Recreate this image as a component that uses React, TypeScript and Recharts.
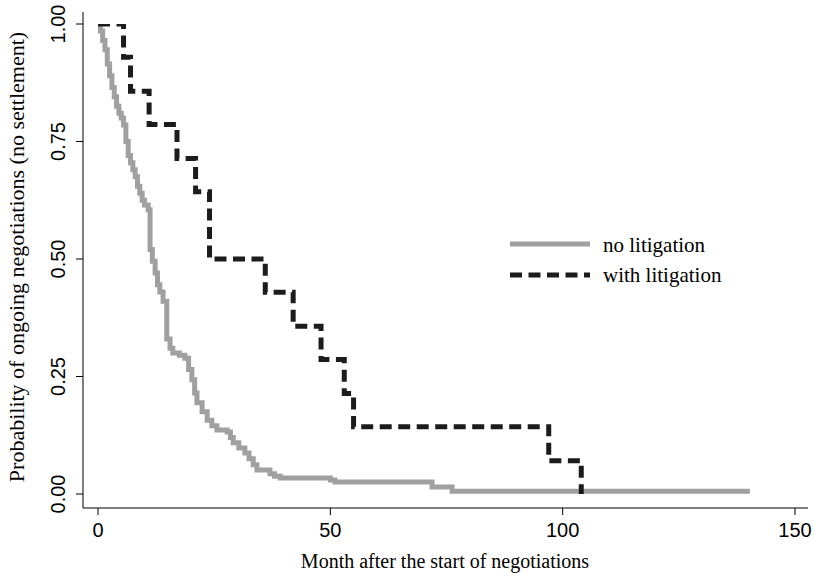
import React from 'react';
import { LineChart, Line, XAxis, YAxis } from 'recharts';

// no litigation group (Kaplan-Meier step curve)
const noLitMonths = [
  0, 0.5, 1, 1.5, 2, 2.5, 3, 3.5, 4, 4.5, 5, 5.5, 6, 6.5, 7, 7.5, 8, 8.5, 9, 9.5,
  10, 10.8, 11.2, 11.7, 12.3, 12.8, 13.3, 14, 14.8, 15.5, 16.1, 17.5, 18.7, 19.5,
  20.2, 20.8, 21.3, 22.4, 23.5, 24.5, 25.6, 27.8, 28.5, 29.1, 30.3, 31.6, 32.5,
  33.4, 34.2, 37, 38, 39.2, 50, 51, 71.9, 76.2, 140.3,
];
const noLitSurv = [
  1.0, 0.985, 0.965, 0.945, 0.915, 0.89, 0.865, 0.845, 0.825, 0.81, 0.8, 0.785,
  0.75, 0.72, 0.705, 0.69, 0.675, 0.655, 0.64, 0.625, 0.615, 0.605, 0.52, 0.495,
  0.47, 0.445, 0.43, 0.41, 0.33, 0.31, 0.3, 0.295, 0.289, 0.265, 0.243, 0.215,
  0.194, 0.175, 0.157, 0.145, 0.136, 0.132, 0.12, 0.109, 0.098, 0.087, 0.075,
  0.062, 0.051, 0.043, 0.038, 0.034, 0.03, 0.0255, 0.015, 0.006, 0.006,
];

// with litigation group
const litMonths = [0, 5.5, 7, 11, 17, 21, 24, 36, 42, 48, 53, 55, 97, 104];
const litSurv = [1, 0.929, 0.857, 0.786, 0.714, 0.643, 0.5, 0.429, 0.357, 0.286, 0.214, 0.143, 0.071, 0];

const xTicks = [0, 50, 100, 150];
const yTicks = [0, 0.25, 0.5, 0.75, 1];

const noLitData = noLitMonths.map((t, i) => ({ t, s: noLitSurv[i] }));
const litData = litMonths.map((t, i) => ({ t, s: litSurv[i] }));

const SANS = '"Liberation Sans", Arial, sans-serif';
const SERIF = '"Liberation Serif", "Times New Roman", serif';

const XTick = (props: any) => (
  <text x={props.x} y={537} textAnchor="middle" fontFamily={SANS} fontSize={20} fill="#000">
    {props.payload.value}
  </text>
);

const YTick = (props: any) => (
  <text
    x={65}
    y={props.y}
    transform={`rotate(-90, 65, ${props.y})`}
    textAnchor="middle"
    fontFamily={SANS}
    fontSize={20}
    fill="#000"
  >
    {props.payload.value.toFixed(2)}
  </text>
);

const LegendBox = () => (
  <svg width={260} height={70} style={{ position: 'absolute', left: 500, top: 225 }}>
    <line x1={10} x2={90} y1={19} y2={19} stroke="#a0a0a0" strokeWidth={5} />
    <text x={103} y={27} fontFamily={SERIF} fontSize={21} fill="#000">no litigation</text>
    <line x1={10} x2={90} y1={50} y2={50} stroke="#1c1c1c" strokeWidth={5} strokeDasharray="12 6.5" />
    <text x={103} y={57} fontFamily={SERIF} fontSize={21} fill="#000">with litigation</text>
  </svg>
);

const App: React.FC = () => {
  return (
    <div style={{ position: 'absolute', left: 0, top: 0, width: 815, height: 580, background: '#fff' }}>
      <LineChart width={815} height={580} margin={{ top: 12, right: 7, bottom: 0, left: 0 }}>
        <XAxis
          type="number"
          dataKey="t"
          domain={[0, 150]}
          ticks={xTicks}
          padding={{ left: 15, right: 13 }}
          height={72}
          tickSize={7}
          axisLine={{ stroke: '#000' }}
          tickLine={{ stroke: '#000' }}
          tick={<XTick />}
          allowDataOverflow
          label={{
            content: () => (
              <text x={445} y={568} textAnchor="middle" fontFamily={SERIF} fontSize={20} fill="#000">
                Month after the start of negotiations
              </text>
            ),
          }}
        />
        <YAxis
          type="number"
          dataKey="s"
          domain={[0, 1]}
          ticks={yTicks}
          padding={{ top: 12, bottom: 14 }}
          width={83}
          tickSize={7}
          axisLine={{ stroke: '#000' }}
          tickLine={{ stroke: '#000' }}
          tick={<YTick />}
          allowDataOverflow
          label={{
            content: () => (
              <text
                x={24}
                y={257}
                transform="rotate(-90, 24, 257)"
                textAnchor="middle"
                fontFamily={SERIF}
                fontSize={22}
                fill="#000"
              >
                Probability of ongoing negotiations (no settlement)
              </text>
            ),
          }}
        />
        <Line
          data={noLitData}
          dataKey="s"
          type="stepAfter"
          stroke="#a0a0a0"
          strokeWidth={5}
          dot={false}
          isAnimationActive={false}
          name="no litigation"
        />
        <Line
          data={litData}
          dataKey="s"
          type="stepAfter"
          stroke="#1c1c1c"
          strokeWidth={5}
          strokeDasharray="12 6.5"
          dot={false}
          isAnimationActive={false}
          name="with litigation"
        />
      </LineChart>
      <LegendBox />
    </div>
  );
};

export default App;
